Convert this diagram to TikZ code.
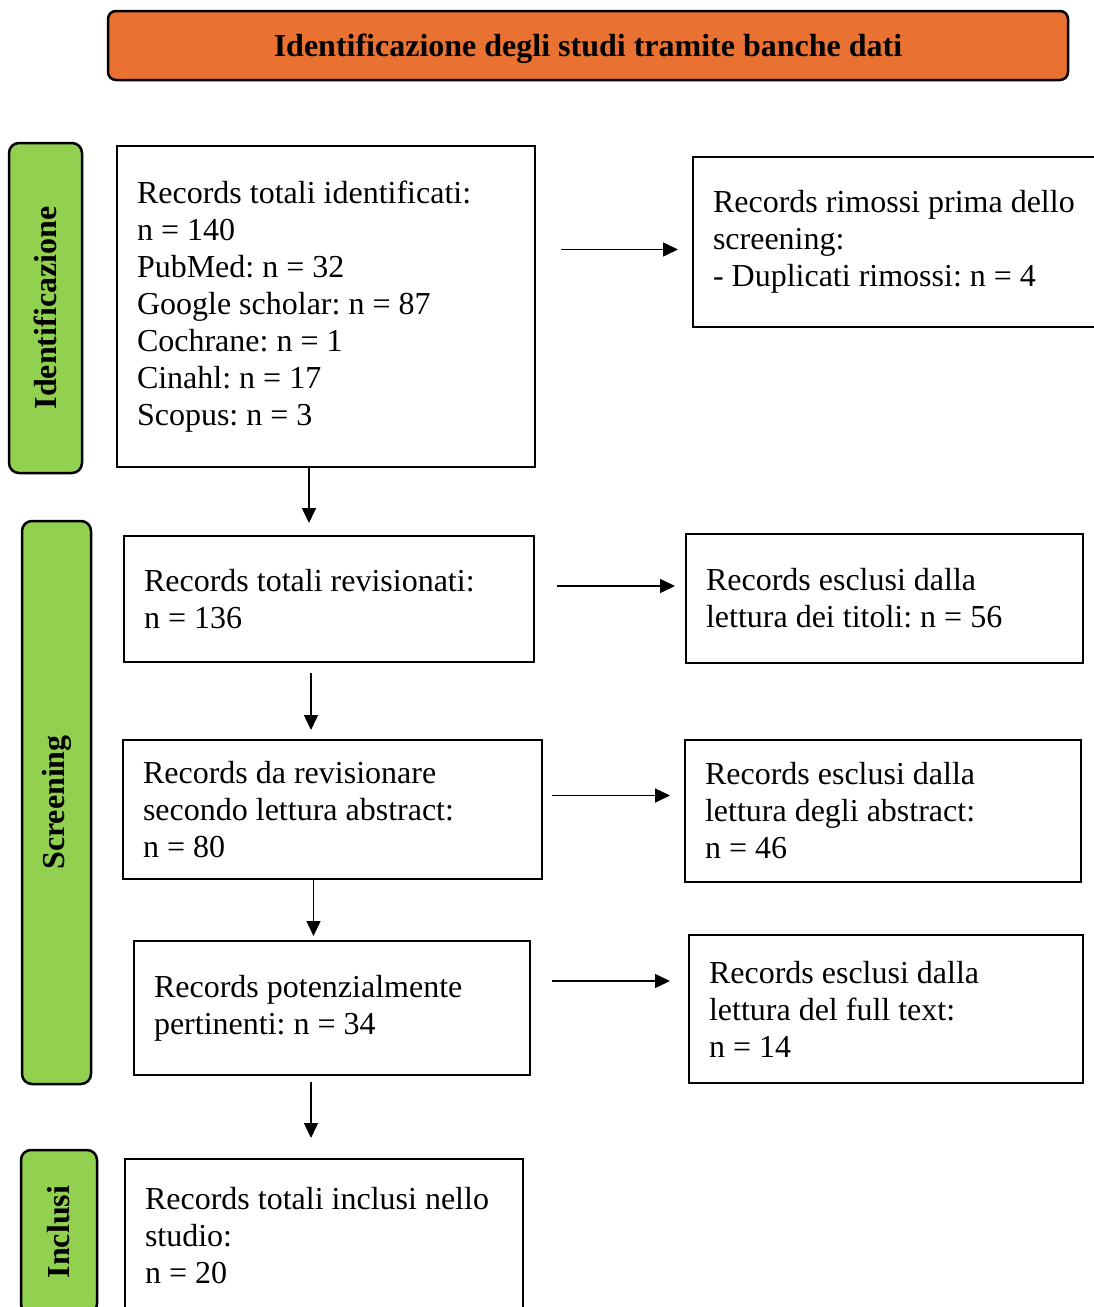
\documentclass[tikz,border=0pt]{standalone}
\usepackage{fontspec}
\setmainfont{Liberation Serif}
\usetikzlibrary{arrows.meta}
\definecolor{arancio}{HTML}{E97132}
\definecolor{verdefase}{HTML}{92D050}
\frenchspacing

\begin{document}
\begin{tikzpicture}[x=1pt, y=-1pt, >={Triangle[length=15pt,width=14pt]},
    testo/.style={font=\fontsize{32}{37}\selectfont},
    box/.style={testo, draw, line width=2.2pt, anchor=north west, outer sep=0pt, inner xsep=20pt, inner ysep=0pt, align=left, execute at begin node={\spaceskip=0pt\xspaceskip=0pt\relax}},
    fase/.style={font=\fontsize{32}{37}\selectfont\bfseries, draw, fill=verdefase, line width=2.5pt, rounded corners=10pt, rotate=90, outer sep=0pt, inner sep=0pt},
    freccia/.style={->, line width=1.5pt}]
        \useasboundingbox (0,0) rectangle (1094,1307);

        \node[draw, fill=arancio, line width=2.5pt, rounded corners=8pt, minimum width=960pt, minimum height=69pt, inner sep=0pt, outer sep=0pt, text depth=0pt, font=\fontsize{32}{37}\selectfont\bfseries] (titolo) at (588,45.5) {Identificazione degli studi tramite banche dati};

        \node[fase, minimum width=330pt, minimum height=73pt] (f1) at (45.5,308) {Identificazione};
        \node[fase, minimum width=563pt, minimum height=69pt] (f2) at (56.5,802.5) {Screening};
        \node[fase, minimum width=164pt, minimum height=76pt] (f3) at (59,1232) {Inclusi};

        \node[box, text width=378pt, minimum height=321pt] (b1) at (117,146) {Records totali identificati:\\ n = 140\\ PubMed: n = 32\\ Google scholar: n = 87\\ Cochrane: n = 1\\ Cinahl: n = 17\\ Scopus: n = 3};
        \node[box, text width=372pt, minimum height=170pt] (r1) at (693,157) {Records rimossi prima dello\\ screening:\\ - Duplicati rimossi: n = 4};

        \node[box, text width=370pt, minimum height=126pt] (b2) at (124,536) {Records totali revisionati:\\ n = 136};
        \node[box, text width=357pt, minimum height=129pt] (r2) at (686,534) {Records esclusi dalla\\ lettura dei titoli: n = 56};

        \node[box, text width=379pt, minimum height=139pt] (b3) at (123,740) {Records da revisionare\\ secondo lettura abstract:\\ n = 80};
        \node[box, text width=356pt, minimum height=142pt] (r3) at (685,740) {Records esclusi dalla\\ lettura degli abstract:\\ n = 46};

        \node[box, text width=356pt, minimum height=134pt] (b4) at (134,941) {Records potenzialmente\\ pertinenti: n = 34};
        \node[box, text width=354pt, minimum height=148pt] (r4) at (689,935) {Records esclusi dalla\\ lettura del full text:\\ n = 14};

        \node[box, text width=358pt, minimum height=154pt] (b5) at (125,1159) {Records totali inclusi nello\\ studio:\\ n = 20};

        \draw[freccia, shorten >=13pt] ([xshift=-17pt]b1.south) -- ([xshift=-17pt]b1.south |- b2.north);
        \draw[freccia, shorten <=11pt, shorten >=10pt] ([xshift=-18pt]b2.south) -- ([xshift=-18pt]b2.south |- b3.north);
        \draw[freccia, shorten >=5pt] ([xshift=-19pt]b3.south) -- ([xshift=-19pt]b3.south |- b4.north);
        \draw[freccia, shorten <=7pt, shorten >=21pt] ([xshift=-21pt]b4.south) -- ([xshift=-21pt]b4.south |- b5.north);

        \draw[freccia, shorten <=26pt, shorten >=15pt] ([yshift=57pt]b1.east) -- ([yshift=57pt]b1.east -| r1.west);
        \draw[freccia, shorten <=23pt, shorten >=11pt] ([yshift=13pt]b2.east) -- ([yshift=13pt]b2.east -| r2.west);
        \draw[freccia, shorten <=10pt, shorten >=15pt] ([yshift=14pt]b3.east) -- ([yshift=14pt]b3.east -| r3.west);
        \draw[freccia, shorten <=22pt, shorten >=19pt] ([yshift=27pt]b4.east) -- ([yshift=27pt]b4.east -| r4.west);
\end{tikzpicture}
\end{document}
